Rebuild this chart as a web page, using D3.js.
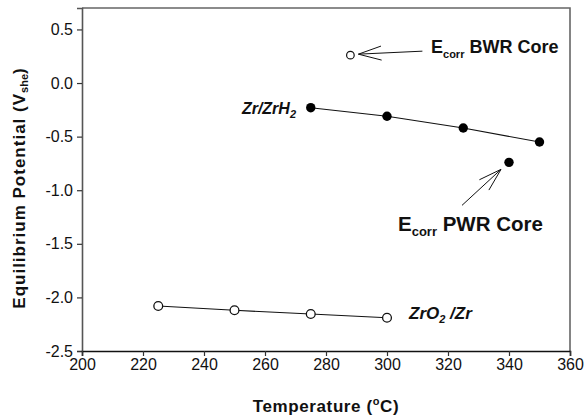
<!DOCTYPE html>
<html>
<head>
<meta charset="utf-8">
<script src="https://cdn.jsdelivr.net/npm/d3@7"></script>
<style>
  html, body { margin: 0; padding: 0; background: #fff; }
  svg { display: block; font-family: "Liberation Sans", Arial, Helvetica, sans-serif; }
</style>
</head>
<body>
<svg id="chart" width="588" height="418"></svg>
<script>
// Equilibrium potentials (V vs SHE) against temperature (°C)
const xTicks = [200, 220, 240, 260, 280, 300, 320, 340, 360];
const yTicks = [-2.5, -2.0, -1.5, -1.0, -0.5, 0.0, 0.5];

const zrO2Temps = [225, 250, 275, 300];
const zrO2Values = [-2.08, -2.12, -2.155, -2.19];

const zrHTemps = [275, 300, 325, 350];
const zrHValues = [-0.23, -0.31, -0.42, -0.55];

const bwrTemp = [288];
const bwrValue = [0.26];

const pwrTemp = [340];
const pwrValue = [-0.74];

const svg = d3.select("#chart");
const plot = { left: 82, right: 570, top: 8, bottom: 351 };

const x = d3.scaleLinear().domain([200, 360]).range([plot.left, plot.right]);
const y = d3.scaleLinear().domain([-2.5, 0.7]).range([plot.bottom, plot.top]);

// frame: top and right edges
svg.append("path")
  .attr("d", `M${plot.left},${plot.top}H${plot.right}V${plot.bottom}`)
  .attr("fill", "none")
  .attr("stroke", "#666")
  .attr("stroke-width", 1.6);

// axes
const yAxis = svg.append("g")
  .attr("transform", `translate(${plot.left},0)`)
  .call(d3.axisLeft(y).tickValues(yTicks).tickSizeOuter(0).tickSize(5).tickPadding(4)
    .tickFormat(d => d.toFixed(1)));
yAxis.select(".domain").attr("stroke", "#555").attr("stroke-width", 1.6);
yAxis.selectAll(".tick line").attr("stroke", "#333").attr("stroke-width", 1.2);
yAxis.selectAll(".tick text").attr("font-size", 16).attr("fill", "#111")
  .attr("font-family", "'Liberation Sans', Arial, sans-serif");

const xAxis = svg.append("g")
  .attr("transform", `translate(0,${plot.bottom})`)
  .call(d3.axisBottom(x).tickValues(xTicks).tickSizeOuter(0).tickSize(5).tickPadding(3)
    .tickFormat(d3.format("d")));
xAxis.select(".domain").attr("stroke", "#111").attr("stroke-width", 1.6);
xAxis.selectAll(".tick line").attr("stroke", "#333").attr("stroke-width", 1.2);
xAxis.selectAll(".tick text").attr("font-size", 16).attr("fill", "#111")
  .attr("font-family", "'Liberation Sans', Arial, sans-serif");

// axis titles
const xTitle = svg.append("text")
  .attr("x", (plot.left + plot.right) / 2)
  .attr("y", 412)
  .attr("text-anchor", "middle")
  .attr("font-size", 17)
  .attr("letter-spacing", 0.6)
  .attr("font-weight", "bold")
  .attr("fill", "#111");
xTitle.append("tspan").text("Temperature (");
xTitle.append("tspan").text("o").attr("font-size", 11).attr("dy", -7);
xTitle.append("tspan").text("C)").attr("dy", 7);

const yTitle = svg.append("text")
  .attr("transform", "translate(25,188) rotate(-90)")
  .attr("text-anchor", "middle")
  .attr("font-size", 17)
  .attr("letter-spacing", 1)
  .attr("font-weight", "bold")
  .attr("fill", "#111");
yTitle.append("tspan").text("Equilibrium Potential (V");
yTitle.append("tspan").text("she").attr("font-size", 11).attr("dy", 3).attr("letter-spacing", 0);
yTitle.append("tspan").text(")").attr("dy", -3);

// series lines
const line = d3.line().x(d => x(d[0])).y(d => y(d[1]));
const zrO2 = d3.zip(zrO2Temps, zrO2Values);
const zrH = d3.zip(zrHTemps, zrHValues);

svg.append("path").datum(zrO2).attr("d", line)
  .attr("fill", "none").attr("stroke", "#111").attr("stroke-width", 1.1);
svg.append("path").datum(zrH).attr("d", line)
  .attr("fill", "none").attr("stroke", "#111").attr("stroke-width", 1.1);

// markers
svg.append("g").selectAll("circle").data(zrO2).join("circle")
  .attr("cx", d => x(d[0])).attr("cy", d => y(d[1])).attr("r", 4.4)
  .attr("fill", "#fff").attr("stroke", "#111").attr("stroke-width", 1.3);

svg.append("g").selectAll("circle").data(zrH).join("circle")
  .attr("cx", d => x(d[0])).attr("cy", d => y(d[1])).attr("r", 4.7)
  .attr("fill", "#000");

const bwr = d3.zip(bwrTemp, bwrValue);
const pwr = d3.zip(pwrTemp, pwrValue);

svg.append("g").selectAll("circle").data(bwr).join("circle")
  .attr("cx", d => x(d[0])).attr("cy", d => y(d[1])).attr("r", 3.8)
  .attr("fill", "#fff").attr("stroke", "#111").attr("stroke-width", 1.2);

svg.append("g").selectAll("circle").data(pwr).join("circle")
  .attr("cx", d => x(d[0])).attr("cy", d => y(d[1])).attr("r", 4.7)
  .attr("fill", "#000");

// open arrow: shaft plus two barbs at the tip
function arrow(tip, tail) {
  const ang = Math.atan2(tail[1] - tip[1], tail[0] - tip[0]);
  const len = 24, spread = 17 * Math.PI / 180;
  const b1 = [tip[0] + len * Math.cos(ang - spread), tip[1] + len * Math.sin(ang - spread)];
  const b2 = [tip[0] + len * Math.cos(ang + spread), tip[1] + len * Math.sin(ang + spread)];
  svg.append("path")
    .attr("d", `M${tail[0]},${tail[1]}L${tip[0]},${tip[1]}M${b1[0]},${b1[1]}L${tip[0]},${tip[1]}L${b2[0]},${b2[1]}`)
    .attr("fill", "none").attr("stroke", "#111").attr("stroke-width", 1);
}

const bx = x(bwrTemp[0]), by = y(bwrValue[0]);
arrow([bx + 8, by - 1], [bx + 72, by - 4]);

const px = x(pwrTemp[0]), py = y(pwrValue[0]);
arrow([px - 8, py + 7], [px - 47, py + 43]);

// annotation labels
function ecorrLabel(xPos, yPos, rest, size) {
  const sub = Math.round(size * 0.62);
  const t = svg.append("text")
    .attr("x", xPos).attr("y", yPos)
    .attr("font-size", size).attr("font-weight", "bold").attr("fill", "#111");
  t.append("tspan").text("E");
  t.append("tspan").text("corr").attr("font-size", sub).attr("dy", 5);
  t.append("tspan").text(" " + rest).attr("dy", -5);
}
ecorrLabel(431, 53, "BWR Core", 18);
ecorrLabel(398, 231, "PWR Core", 20.5);

const zrHLabel = svg.append("text")
  .attr("x", 296).attr("y", 114)
  .attr("text-anchor", "end")
  .attr("font-size", 16).attr("font-weight", "bold").attr("font-style", "italic")
  .attr("fill", "#111");
zrHLabel.append("tspan").text("Zr/ZrH");
zrHLabel.append("tspan").text("2").attr("font-size", 11).attr("dy", 4);

const zrO2Label = svg.append("text")
  .attr("x", 409).attr("y", 319)
  .attr("font-size", 17).attr("font-weight", "bold").attr("font-style", "italic")
  .attr("fill", "#111");
zrO2Label.append("tspan").text("ZrO");
zrO2Label.append("tspan").text("2").attr("font-size", 11).attr("dy", 4);
zrO2Label.append("tspan").text(" /Zr").attr("dy", -4);
</script>
</body>
</html>
